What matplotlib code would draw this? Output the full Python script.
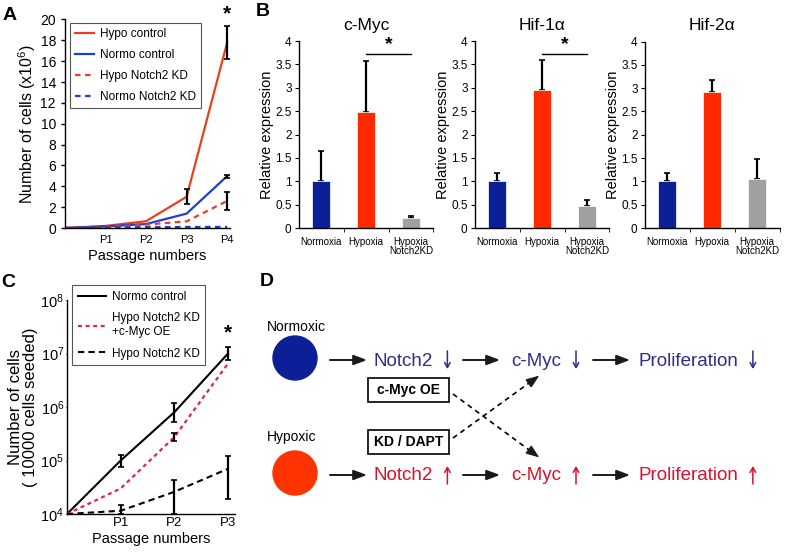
import numpy as np
import matplotlib
matplotlib.use("Agg")
import matplotlib.pyplot as plt
from matplotlib.patches import Circle, Rectangle

plt.rcParams["font.family"] = ["Liberation Sans", "DejaVu Sans"]
plt.rcParams["mathtext.fontset"] = "custom"
plt.rcParams["mathtext.rm"] = "Liberation Sans"
plt.rcParams["mathtext.it"] = "Liberation Sans:italic"
plt.rcParams["axes.linewidth"] = 1.0

# ---- data -------------------------------------------------------------
# Panel A: cell numbers (x10^6) per passage
passage_a = [0, 1, 2, 3, 4]
passage_a_labels = ["", "P1", "P2", "P3", "P4"]
hypo_ctrl = [0, 0.2, 0.65, 3.0, 17.8]
normo_ctrl = [0, 0.15, 0.38, 1.38, 4.98]
hypo_kd = [0, 0.1, 0.32, 0.64, 2.6]
normo_kd = [0, 0.05, 0.08, 0.1, 0.1]
hypo_ctrl_err = [0, 0, 0, 0.7, 1.6]
normo_ctrl_err = [0, 0, 0, 0, 0.15]
hypo_kd_err = [0, 0, 0, 0, 0.9]

# Panel B: relative expression
groups_b = ["Normoxia", "Hypoxia", "Hypoxia\nNotch2KD"]
cmyc = [1.0, 2.48, 0.22]
cmyc_err = [0.65, 1.09, 0.03]
hif1a = [1.0, 2.95, 0.47]
hif1a_err = [0.18, 0.65, 0.13]
hif2a = [1.0, 2.92, 1.05]
hif2a_err = [0.18, 0.25, 0.43]

# Panel C: cell numbers from 10000 seeded
passage_c = [0, 1, 2, 3]
passage_c_labels = ["", "P1", "P2", "P3"]
normo_c = [1e4, 1e5, 8e5, 1e7]
normo_c_lo = [1e4, 7.7e4, 5.3e5, 7.6e6]
normo_c_hi = [1e4, 1.27e5, 1.17e6, 1.34e7]
kdmyc_c = [1e4, 3e4, 2.75e5, 6.5e6]
kdmyc_c_lo = [1e4, 3e4, 2.35e5, 6.5e6]
kdmyc_c_hi = [1e4, 3e4, 3.2e5, 6.5e6]
kd_c = [1e4, 1.15e4, 2.6e4, 7e4]
kd_c_lo = [1e4, 1e4, 1e4, 1.9e4]
kd_c_hi = [1e4, 1.45e4, 4.3e4, 1.23e5]

BLUE_BAR = "#0b1f96"
RED_BAR = "#ff2a00"
GRAY_BAR = "#a0a0a0"
LINE_RED = "#e8401f"
LINE_BLUE = "#1d3fd2"
TXT_BLUE = "#2c2d8c"
TXT_RED = "#d9102c"

W, H = 788, 552
fig = plt.figure(figsize=(W / 100, H / 100), dpi=100)


def px_axes(left, top, right, bottom):
    """Add axes given a pixel box (top-left origin)."""
    return fig.add_axes([left / W, 1 - bottom / H, (right - left) / W, (bottom - top) / H])


def err_only(ax, x, y, err_lo, err_hi, **kw):
    x = np.asarray(x)
    y = np.asarray(y, dtype=float)
    lo = np.asarray(err_lo, dtype=float)
    hi = np.asarray(err_hi, dtype=float)
    m = (lo + hi) > 0
    ax.errorbar(x[m], y[m], yerr=[lo[m], hi[m]], fmt="none", ecolor="black",
                elinewidth=1.6, capsize=2, capthick=1.2, clip_on=False, zorder=5, **kw)


def simple_spines(ax):
    ax.spines["top"].set_visible(False)
    ax.spines["right"].set_visible(False)


# ---- Panel A ----------------------------------------------------------
ax = px_axes(65, 19.5, 230, 228)
ax.plot(passage_a, hypo_ctrl, color=LINE_RED, lw=1.6, label="Hypo control")
ax.plot(passage_a, normo_ctrl, color=LINE_BLUE, lw=1.6, label="Normo control")
ax.plot(passage_a, hypo_kd, color=LINE_RED, lw=1.6, ls=(0, (2.5, 2)), label="Hypo Notch2 KD")
ax.plot(passage_a, normo_kd, color=LINE_BLUE, lw=1.6, ls=(0, (2.5, 2)), label="Normo Notch2 KD")
err_only(ax, passage_a, hypo_ctrl, hypo_ctrl_err, hypo_ctrl_err)
err_only(ax, passage_a, normo_ctrl, normo_ctrl_err, normo_ctrl_err)
err_only(ax, passage_a, hypo_kd, hypo_kd_err, hypo_kd_err)
ax.set_xlim(0, 4.07)
ax.set_ylim(0, 20)
ax.set_xticks(passage_a)
ax.set_xticklabels(passage_a_labels, fontsize=8)
ax.set_yticks(range(0, 21, 2))
ax.tick_params(axis="y", labelsize=10, length=3, width=1)
ax.tick_params(axis="x", length=0, pad=5)
ax.set_xlabel("Passage numbers", fontsize=10.5, labelpad=3)
ax.set_ylabel("Number of cells (x10$^{6}$)", fontsize=11.5, labelpad=2)
simple_spines(ax)
ax.text(4, 20.5, "*", ha="center", va="center", fontsize=15, fontweight="bold", clip_on=False)
leg = ax.legend(loc="upper left", bbox_to_anchor=(70 / W, 1 - 23 / H), bbox_transform=fig.transFigure,
                borderaxespad=0, fontsize=8.5, handlelength=1.6, labelspacing=0.75,
                fancybox=False, edgecolor="#555555", framealpha=1, borderpad=0.45, handletextpad=0.5)
leg.get_frame().set_linewidth(0.8)

# ---- Panel B ----------------------------------------------------------
bar_cols = [BLUE_BAR, RED_BAR, GRAY_BAR]
b_boxes = [(298.5, 41, 433.5, 228), (474.5, 41, 609.5, 228), (644.5, 41.5, 779.5, 228)]
b_titles = ["c-Myc", "Hif-1\u03b1", "Hif-2\u03b1"]
b_vals = [cmyc, hif1a, hif2a]
b_errs = [cmyc_err, hif1a_err, hif2a_err]
b_sig = [True, True, False]
xb = np.arange(len(groups_b))
for box, title, vals, errs, sig in zip(b_boxes, b_titles, b_vals, b_errs, b_sig):
    ax = px_axes(*box)
    ax.bar(xb, vals, width=0.4, color=bar_cols, edgecolor="white", linewidth=0.5, zorder=2)
    ax.errorbar(xb, vals, yerr=[[0] * 3, errs], fmt="none", ecolor="black",
                elinewidth=1.6, capsize=2, capthick=1.2, zorder=1)
    ax.set_xlim(-0.5, 2.5)
    ax.set_ylim(0, 4)
    ax.set_yticks(np.arange(0, 4.01, 0.5))
    ax.set_yticklabels(["0", "0.5", "1", "1.5", "2", "2.5", "3", "3.5", "4"])
    ax.tick_params(axis="y", labelsize=8.5, length=3, pad=2)
    ax.set_xticks(xb)
    ax.set_xticklabels(groups_b, fontsize=7, linespacing=0.9)
    ax.tick_params(axis="x", length=0, pad=6.5)
    ax.set_xticks([0.5, 1.5, 2.5], minor=True)
    ax.tick_params(axis="x", which="minor", length=3, direction="out")
    ax.set_ylabel("Relative expression", fontsize=10.5, labelpad=1)
    ax.set_title(title, fontsize=12.5, pad=8)
    simple_spines(ax)
    if sig:
        ax.plot([1, 2], [3.72, 3.72], color="black", lw=1)
        ax.text(1.5, 3.92, "*", ha="center", va="center", fontsize=14, fontweight="bold")

# ---- Panel C ----------------------------------------------------------
ax = px_axes(67, 300, 235, 514)
ax.plot(passage_c, normo_c, color="black", lw=1.5, label="Normo control")
ax.plot(passage_c, kdmyc_c, color="#dc2a3c", lw=1.6, ls=(0, (1.8, 1.6)), label="Hypo Notch2 KD\n+c-Myc OE")
ax.plot(passage_c, kd_c, color="black", lw=1.5, ls=(0, (3, 2)), label="Hypo Notch2 KD")
for vals, lo, hi in [(normo_c, normo_c_lo, normo_c_hi), (kdmyc_c, kdmyc_c_lo, kdmyc_c_hi), (kd_c, kd_c_lo, kd_c_hi)]:
    v = np.asarray(vals)
    err_only(ax, passage_c, v, v - np.asarray(lo), np.asarray(hi) - v)
ax.set_yscale("log")
ax.set_ylim(1e4, 1e8)
ax.set_xlim(0, 3.13)
ax.set_yticks([1e4, 1e5, 1e6, 1e7, 1e8])
ax.set_yticklabels(["10$^{%d}$" % k for k in range(4, 9)])
ax.yaxis.set_minor_locator(matplotlib.ticker.NullLocator())
ax.tick_params(axis="y", labelsize=10.5, length=1, pad=1)
ax.set_xticks(passage_c)
ax.set_xticklabels(passage_c_labels, fontsize=9.5)
ax.tick_params(axis="x", length=0, pad=2.5)
ax.set_xlabel("Passage numbers", fontsize=10.5, labelpad=2)
ax.set_ylabel("Number of cells\n( 10000 cells seeded)", fontsize=12, labelpad=2, linespacing=1.0)
simple_spines(ax)
ax.text(3, 2.4e7, "*", ha="center", va="center", fontsize=15, fontweight="bold", clip_on=False)
leg = ax.legend(loc="upper left", bbox_to_anchor=(72 / W, 1 - 285 / H), bbox_transform=fig.transFigure,
                borderaxespad=0, fontsize=8.5, handlelength=2.4, labelspacing=0.8,
                fancybox=False, edgecolor="#555555", framealpha=1, borderpad=0.5, handletextpad=0.45)
leg.get_frame().set_linewidth(0.8)

# ---- Panel D (diagram, pixel coordinates) -----------------------------
ax = fig.add_axes([240 / W, 0, 548 / W, 282 / H])
ax.set_xlim(240, 788)
ax.set_ylim(552, 270)
ax.axis("off")

row_y = [360, 475]
row_labels = ["Normoxic", "Hypoxic"]
row_label_y = [327, 437]
circle_cols = [BLUE_BAR, "#ff3300"]
txt_cols = [TXT_BLUE, TXT_RED]
updown = [1, -1]   # +1 = down arrow (in pixel coords), -1 = up arrow
node_names = ["Notch2", "c-Myc", "Proliferation"]
node_x = [373, 511, 638]
arrow_x = [(330, 367), (463, 500), (593, 630)]

renderer = fig.canvas.get_renderer()
inv = ax.transData.inverted()
for y, lab, ly, cc, tc, ud in zip(row_y, row_labels, row_label_y, circle_cols, txt_cols, updown):
    ax.text(267, ly, lab, fontsize=10, va="center", ha="left")
    ax.add_patch(Circle((295, y - 2), 22, color=cc))
    for name, nx in zip(node_names, node_x):
        t = ax.text(nx, y + 1, name, color=tc, fontsize=13.5, va="center", ha="left")
        bb = t.get_window_extent(renderer)
        x_end = inv.transform((bb.x1, bb.y0))[0]
        ax_x = x_end + 15
        ax.annotate("", xy=(ax_x, y + 9 * ud), xytext=(ax_x, y - 9 * ud),
                    arrowprops=dict(arrowstyle="->,head_length=0.35,head_width=0.2",
                                    color=tc, lw=1.1, shrinkA=0, shrinkB=0))
    for x0, x1 in arrow_x:
        ax.annotate("", xy=(x1, y), xytext=(x0, y),
                    arrowprops=dict(arrowstyle="-|>,head_length=0.8,head_width=0.3",
                                    color="#1a1a1a", lw=1.4, shrinkA=0, shrinkB=0))

# intervention boxes
box_labels = ["c-Myc OE", "KD / DAPT"]
box_y = [390, 441.5]
for lab, by in zip(box_labels, box_y):
    ax.add_patch(Rectangle((368, by - 12), 81, 24, fill=False, edgecolor="black", lw=1.2))
    ax.text(408.5, by, lab, fontsize=10, fontweight="bold", ha="center", va="center")

# dashed crossing arrows
cross = [((453, 394), (536, 455)), ((453, 438), (536, 378))]
for (x0, y0), (x1, y1) in cross:
    ax.plot([x0, x1], [y0, y1], color="black", lw=1.2, ls=(0, (3, 2.5)))
    dx, dy = x1 - x0, y1 - y0
    ax.annotate("", xy=(x1 + dx * 0.04, y1 + dy * 0.04), xytext=(x1 - dx * 0.05, y1 - dy * 0.05),
                arrowprops=dict(arrowstyle="-|>,head_length=0.8,head_width=0.3",
                                color="#1a1a1a", lw=1.0, shrinkA=0, shrinkB=0))

# panel letters
for lx, ly, letter in [(10, 15, "A"), (263, 11, "B"), (8, 283, "C"), (267, 282, "D")]:
    fig.text(lx / W, 1 - ly / H, letter, fontsize=14, fontweight="bold", ha="center", va="center")

fig.savefig("out.png", dpi=100)
